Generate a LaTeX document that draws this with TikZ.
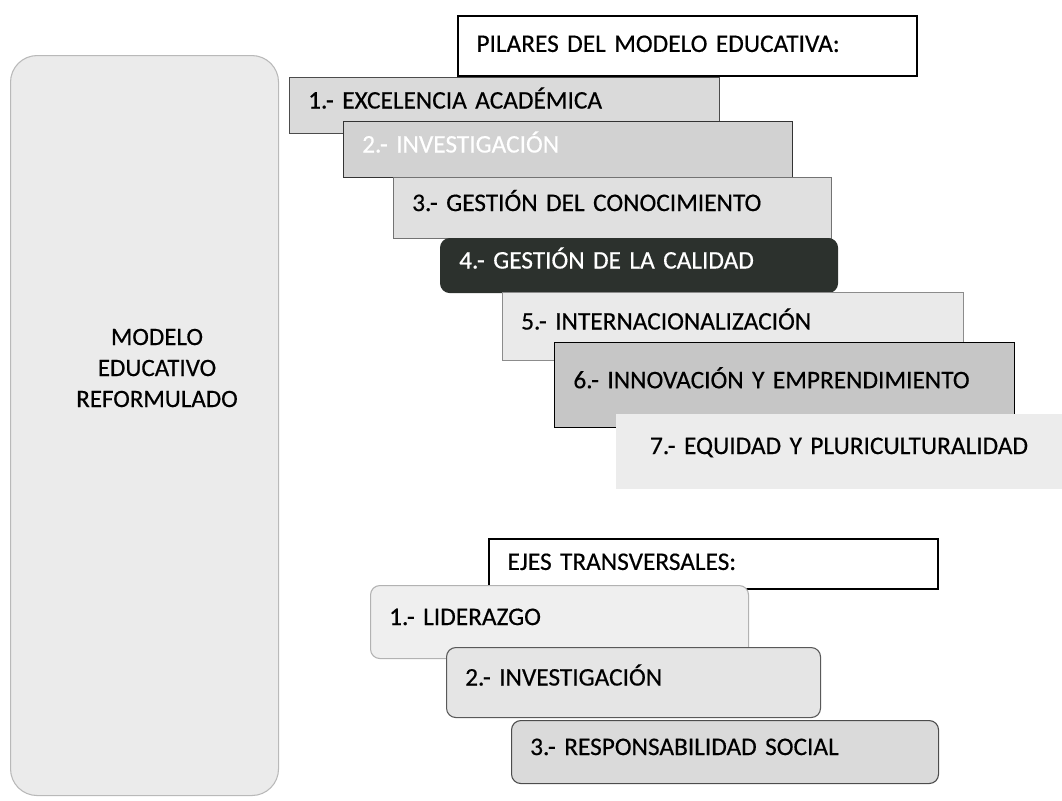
\documentclass[tikz,border=0pt]{standalone}
\usepackage{fontspec}
\setmainfont{Carlito}[FakeBold=0.4]
\usepackage{tikz}
\definecolor{modeloFill}{HTML}{EBEBEB}
\definecolor{pilarA}{HTML}{DADADA}
\definecolor{pilarB}{HTML}{D2D2D2}
\definecolor{pilarC}{HTML}{E0E0E0}
\definecolor{pilarD}{HTML}{2C312D}
\definecolor{pilarE}{HTML}{EAEAEA}
\definecolor{pilarF}{HTML}{C6C6C6}
\definecolor{pilarG}{HTML}{ECECEC}
\definecolor{ejeA}{HTML}{EFEFEF}
\definecolor{ejeB}{HTML}{E5E5E5}
\definecolor{ejeC}{HTML}{DADADA}
\newcommand{\textoPilar}{\fontsize{19}{23}\selectfont\spaceskip=0.13em plus 0.02em\relax}

\begin{document}
\begin{tikzpicture}[x=0.75pt,y=-0.75pt]
        \tikzstyle{every node}=[font=\textoPilar, inner ysep=0pt]
        \tikzstyle{pilar}=[draw, anchor=north west, inner xsep=14pt, align=left, line width=0.8pt, text height=13pt, text depth=8.5pt]
        \tikzstyle{titulo}=[pilar, fill=white, line width=1.2pt, text depth=3.8pt]
        \tikzstyle{eje}=[pilar, rounded corners=7pt]
        \useasboundingbox (0,0) rectangle (1062,800);
        \node[draw=gray!55, fill=modeloFill, rounded corners=20pt, line width=0.8pt, anchor=north west, minimum width=201pt, minimum height=555pt] (modelo) at (10,55) {};
        \node[align=center, font=\fontsize{18.75}{23.25}\selectfont] (modeloTxt) at (157,368) {MODELO\\EDUCATIVO\\REFORMULADO};
        \node[titulo, text width=316.25pt, minimum height=45pt] (pilares) at (457,15) {PILARES DEL MODELO EDUCATIVA:};
        \node[pilar, fill=pilarA, draw=black!70, text width=294.5pt, minimum height=42pt] (p1) at (289,77) {1.- EXCELENCIA ACADÉMICA};
        \node[pilar, fill=pilarB, draw=black!80, text=white, text width=308.75pt, minimum height=42pt] (p2) at (343,121) {2.- INVESTIGACIÓN};
        \node[pilar, fill=pilarC, draw=black!55, text width=300.5pt, minimum height=45.75pt] (p3) at (393,177) {3.- GESTIÓN DEL CONOCIMIENTO};
        \node[pilar, fill=pilarD, draw=pilarD, text=white, rounded corners=7pt, text width=269.75pt, minimum height=40.5pt] (p4) at (440,238) {4.- GESTIÓN DE LA CALIDAD};
        \node[pilar, fill=pilarE, draw=black!45, text width=317.75pt, minimum height=51pt] (p5) at (502,292) {5.- INTERNACIONALIZACIÓN};
        \node[pilar, fill=pilarF, draw=black, line width=1.1pt, text width=317pt, minimum height=63.75pt] (p6) at (554,342) {6.- INNOVACIÓN Y EMPRENDIMIENTO};
        \node[pilar, fill=pilarG, draw=none, align=center, text width=307.25pt, minimum height=56.25pt] (p7) at (615,413) {7.- EQUIDAD Y PLURICULTURALIDAD};
        \node[titulo, text width=308.75pt, minimum height=37.5pt] (ejes) at (488,538) {EJES TRANSVERSALES:};
        \node[eje, fill=ejeA, draw=black!30, text width=255.5pt, minimum height=54.75pt] (e1) at (370,585) {1.- LIDERAZGO};
        \node[eje, fill=ejeB, draw=black!65, text width=252.5pt, minimum height=52.5pt] (e2) at (446,647) {2.- INVESTIGACIÓN};
        \node[eje, fill=ejeC, draw=black!70, text width=292.25pt, minimum height=47.25pt] (e3) at (511,720) {3.- RESPONSABILIDAD SOCIAL};
    \end{tikzpicture}
\end{document}
